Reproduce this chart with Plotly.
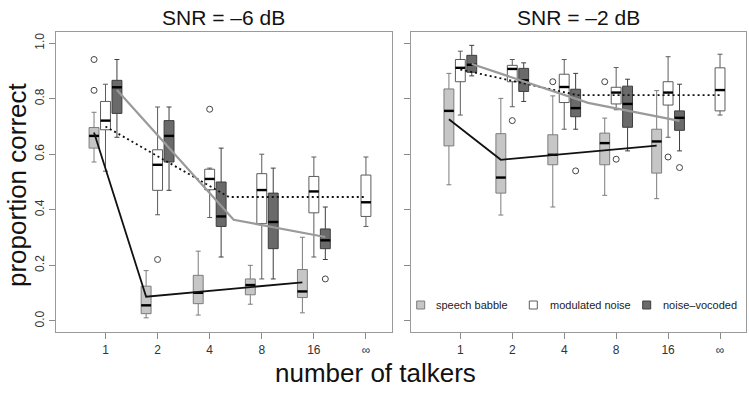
import plotly.graph_objects as go

# ---------------- data ----------------
talkers = ["1", "2", "4", "8", "16", "∞"]
yticks = [0.0, 0.2, 0.4, 0.6, 0.8, 1.0]
ytick_labels = ["0.0", "0.2", "0.4", "0.6", "0.8", "1.0"]
panel_titles = ["SNR = –6 dB", "SNR = –2 dB"]
noise_names = ["speech babble", "modulated noise", "noise–vocoded"]

# SNR = -6 dB : speech babble (talkers 1..16)
babble6_lo = [0.572, 0.011, 0.021, 0.060, 0.029]
babble6_q1 = [0.622, 0.026, 0.062, 0.094, 0.084]
babble6_med = [0.666, 0.056, 0.101, 0.129, 0.106]
babble6_q3 = [0.696, 0.125, 0.164, 0.151, 0.185]
babble6_hi = [0.751, 0.181, 0.251, 0.200, 0.301]
babble6_out_grp = [1, 1]
babble6_out_val = [0.941, 0.830]

# SNR = -6 dB : modulated noise (talkers 1..inf)
mod6_lo = [0.539, 0.382, 0.372, 0.151, 0.230, 0.340]
mod6_q1 = [0.688, 0.470, 0.472, 0.350, 0.389, 0.376]
mod6_med = [0.721, 0.562, 0.511, 0.471, 0.466, 0.427]
mod6_q3 = [0.790, 0.616, 0.546, 0.530, 0.520, 0.525]
mod6_hi = [0.852, 0.770, 0.550, 0.600, 0.590, 0.590]
mod6_out_grp = [2, 3]
mod6_out_val = [0.221, 0.762]

# SNR = -6 dB : noise-vocoded (talkers 1..16)
voc6_lo = [0.661, 0.470, 0.230, 0.151, 0.221]
voc6_q1 = [0.747, 0.572, 0.340, 0.260, 0.260]
voc6_med = [0.841, 0.666, 0.376, 0.356, 0.290]
voc6_q3 = [0.866, 0.721, 0.500, 0.460, 0.331]
voc6_hi = [0.941, 0.770, 0.622, 0.550, 0.410]
voc6_out_grp = [5]
voc6_out_val = [0.151]

# SNR = -2 dB : speech babble
babble2_lo = [0.490, 0.381, 0.410, 0.452, 0.440]
babble2_q1 = [0.630, 0.460, 0.562, 0.562, 0.532]
babble2_med = [0.756, 0.516, 0.598, 0.640, 0.646]
babble2_q3 = [0.835, 0.674, 0.670, 0.676, 0.690]
babble2_hi = [0.891, 0.801, 0.810, 0.730, 0.829]
babble2_out_grp = [3, 4]
babble2_out_val = [0.861, 0.861]

# SNR = -2 dB : modulated noise
mod2_lo = [0.741, 0.771, 0.690, 0.760, 0.661, 0.741]
mod2_q1 = [0.861, 0.861, 0.786, 0.781, 0.777, 0.756]
mod2_med = [0.911, 0.907, 0.842, 0.822, 0.822, 0.831]
mod2_q3 = [0.941, 0.920, 0.888, 0.841, 0.861, 0.911]
mod2_hi = [0.971, 0.941, 0.941, 0.912, 0.951, 0.960]
mod2_out_grp = [2, 4, 5]
mod2_out_val = [0.721, 0.582, 0.590]

# SNR = -2 dB : noise-vocoded
voc2_lo = [0.882, 0.790, 0.690, 0.612, 0.612]
voc2_q1 = [0.895, 0.826, 0.735, 0.697, 0.686]
voc2_med = [0.922, 0.866, 0.766, 0.781, 0.731]
voc2_q3 = [0.956, 0.909, 0.834, 0.845, 0.756]
voc2_hi = [0.992, 0.929, 0.891, 0.870, 0.852]
voc2_out_grp = [3, 5]
voc2_out_val = [0.540, 0.552]

# piecewise fitted lines (x in talker-index units, y = proportion correct)
fit_babble6_x = [1, 2, 5]
fit_babble6_y = [0.678, 0.087, 0.139]
fit_mod6_x = [1, 3.37, 6]
fit_mod6_y = [0.700, 0.446, 0.446]
fit_voc6_x = [1, 3.24, 5]
fit_voc6_y = [0.831, 0.364, 0.302]

fit_babble2_x = [1, 2, 5]
fit_babble2_y = [0.726, 0.580, 0.631]
fit_mod2_x = [1, 3.25, 6]
fit_mod2_y = [0.905, 0.813, 0.813]
fit_voc2_x = [1, 3.24, 5]
fit_voc2_y = [0.925, 0.785, 0.720]

# ---------------- styling ----------------
FONT = "Liberation Sans, Arial, Helvetica, sans-serif"
W, H = 749, 396


def px(xp):
    return xp / W


def py(yp):
    return 1 - yp / H


OFFS = [-0.22, 0.0, 0.22]
BOX_W = 0.19
FILLS = ["#c6c6c6", "#ffffff", "#6a6a6a"]
BORDERS = ["#7c7c7c", "#5c5c5c", "#3e3e3e"]
FIT_STYLE = [dict(color="#111111", width=1.8),
             dict(color="#111111", width=1.8, dash="2px,3px"),
             dict(color="#9a9a9a", width=2.2)]

fig = go.Figure()

panels = [
    dict(xa="x", ya="y",
         boxes=[(babble6_lo, babble6_q1, babble6_med, babble6_q3, babble6_hi),
                (mod6_lo, mod6_q1, mod6_med, mod6_q3, mod6_hi),
                (voc6_lo, voc6_q1, voc6_med, voc6_q3, voc6_hi)],
         outs=[(babble6_out_grp, babble6_out_val), (mod6_out_grp, mod6_out_val),
               (voc6_out_grp, voc6_out_val)],
         fits=[(fit_babble6_x, fit_babble6_y), (fit_mod6_x, fit_mod6_y),
               (fit_voc6_x, fit_voc6_y)]),
    dict(xa="x2", ya="y2",
         boxes=[(babble2_lo, babble2_q1, babble2_med, babble2_q3, babble2_hi),
                (mod2_lo, mod2_q1, mod2_med, mod2_q3, mod2_hi),
                (voc2_lo, voc2_q1, voc2_med, voc2_q3, voc2_hi)],
         outs=[(babble2_out_grp, babble2_out_val), (mod2_out_grp, mod2_out_val),
               (voc2_out_grp, voc2_out_val)],
         fits=[(fit_babble2_x, fit_babble2_y), (fit_mod2_x, fit_mod2_y),
               (fit_voc2_x, fit_voc2_y)]),
]

for p in panels:
    xa, ya = p["xa"], p["ya"]
    for k, (lo, q1, med, q3, hi) in enumerate(p["boxes"]):
        pos = [i + 1 + OFFS[k] for i in range(len(med))]
        fig.add_trace(go.Box(
            x=pos, lowerfence=lo, q1=q1, median=med, q3=q3, upperfence=hi,
            width=BOX_W, whiskerwidth=0.5, fillcolor=FILLS[k],
            line=dict(color=BORDERS[k], width=1), boxpoints=False,
            xaxis=xa, yaxis=ya, showlegend=False, hoverinfo="skip"))
        mx, my = [], []
        for xp, m in zip(pos, med):
            mx += [xp - BOX_W / 2, xp + BOX_W / 2, None]
            my += [m, m, None]
        fig.add_trace(go.Scatter(x=mx, y=my, mode="lines",
                                 line=dict(color="#000000", width=2.4),
                                 xaxis=xa, yaxis=ya, showlegend=False,
                                 hoverinfo="skip"))
    for k, (grp, val) in enumerate(p["outs"]):
        fig.add_trace(go.Scatter(
            x=[g + OFFS[k] for g in grp], y=val, mode="markers",
            marker=dict(symbol="circle-open", size=6, color="#444444",
                        line=dict(width=1, color="#444444")),
            xaxis=xa, yaxis=ya, showlegend=False, hoverinfo="skip"))
    for k, (fx, fy) in enumerate(p["fits"]):
        fig.add_trace(go.Scatter(
            x=[v + OFFS[k] for v in fx], y=fy, mode="lines",
            line=FIT_STYLE[k], xaxis=xa, yaxis=ya, showlegend=False,
            hoverinfo="skip"))

xdom1 = [px(56), px(392)]
xdom2 = [px(411), px(746)]
ydom = [py(332), py(32)]

axis_common = dict(showgrid=False, zeroline=False, showline=True, mirror=True,
                   linecolor="#9a9a9a", linewidth=1.3, ticks="outside",
                   tickcolor="#8a8a8a", tickwidth=1.2,
                   tickfont=dict(family=FONT, size=12, color="#333333"))

fig.update_layout(
    width=W, height=H, margin=dict(l=0, r=0, t=0, b=0),
    paper_bgcolor="white", plot_bgcolor="white", boxmode="overlay",
    xaxis=dict(domain=xdom1, range=[0.05, 6.5], tickvals=list(range(1, 7)),
               ticktext=talkers, ticklen=6, anchor="y", **axis_common),
    yaxis=dict(domain=ydom, range=[-0.04, 1.04], tickvals=yticks,
               ticktext=ytick_labels, tickangle=-90, ticklen=6, anchor="x",
               **axis_common),
    xaxis2=dict(domain=xdom2, range=[0.05, 6.5], tickvals=list(range(1, 7)),
                ticktext=talkers, ticklen=6, anchor="y2", **axis_common),
    yaxis2=dict(domain=ydom, range=[-0.04, 1.04], tickvals=yticks,
                showticklabels=False, ticklen=6, anchor="x2", **axis_common),
)

ann = []
for title, dom in zip(panel_titles, [xdom1, xdom2]):
    ann.append(dict(text=title, x=(dom[0] + dom[1]) / 2, y=py(18),
                    xref="paper", yref="paper", xanchor="center",
                    yanchor="middle", showarrow=False,
                    font=dict(family=FONT, size=21, color="#111111")))
ann.append(dict(text="number of talkers", x=px(375), y=py(373), xref="paper",
                yref="paper", xanchor="center", yanchor="middle",
                showarrow=False,
                font=dict(family=FONT, size=26, color="#111111")))
ann.append(dict(text="proportion correct", x=px(17), y=py(185),
                xref="paper", yref="paper", xanchor="center",
                yanchor="middle", textangle=-90, showarrow=False,
                font=dict(family=FONT, size=26, color="#111111")))

# manual legend inside right panel
shapes = []
key_x = [420.7, 533.3, 646.7]
text_x = [434, 547.5, 660.5]
key_y = 305
for k in range(3):
    shapes.append(dict(type="rect", xref="paper", yref="paper",
                       x0=px(key_x[k] - 4), x1=px(key_x[k] + 4),
                       y0=py(key_y + 4), y1=py(key_y - 4),
                       fillcolor=FILLS[k], line=dict(color=BORDERS[k], width=1)))
    ann.append(dict(text=noise_names[k], x=px(text_x[k]), y=py(key_y),
                    xref="paper", yref="paper", xanchor="left",
                    yanchor="middle", showarrow=False,
                    font=dict(family=FONT, size=11, color="#222222")))

fig.update_layout(annotations=ann, shapes=shapes)
fig.write_html("out.html", config={"displayModeBar": False},
               post_script="document.body.style.margin='0px';")
